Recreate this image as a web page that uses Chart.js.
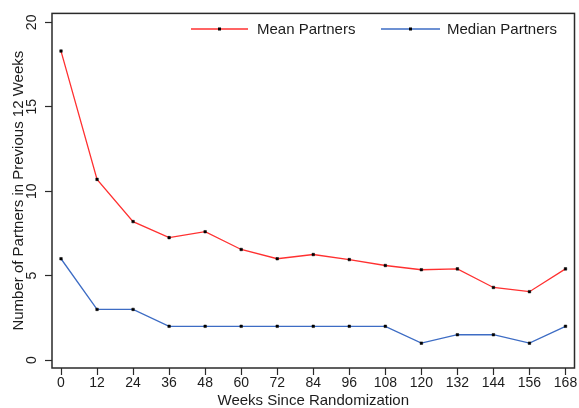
<!DOCTYPE html>
<html>
<head>
<meta charset="utf-8">
<script src="https://cdn.jsdelivr.net/npm/chart.js@4.4.0/dist/chart.umd.min.js"></script>
<style>
  html, body { margin: 0; padding: 0; background: #fff; }
</style>
</head>
<body>
<canvas id="chart" width="579" height="408"></canvas>
<script>
// Chart values
const weeks = [0, 12, 24, 36, 48, 60, 72, 84, 96, 108, 120, 132, 144, 156, 168];
const meanPartners = [18.3, 10.7, 8.2, 7.25, 7.6, 6.55, 6.0, 6.25, 5.95, 5.6, 5.35, 5.4, 4.3, 4.05, 5.4];
const medianPartners = [6, 3, 3, 2, 2, 2, 2, 2, 2, 2, 1, 1.5, 1.5, 1, 2];
const xTicks = [0, 12, 24, 36, 48, 60, 72, 84, 96, 108, 120, 132, 144, 156, 168];
const yTicks = [0, 5, 10, 15, 20];

const FONT = "'Liberation Sans', Arial, Helvetica, sans-serif";
const TEXT_COLOR = '#1c1c1c';
const FRAME_COLOR = '#2a2a2a';

Chart.defaults.font.family = FONT;
Chart.defaults.font.size = 14;
Chart.defaults.color = TEXT_COLOR;

function toPoints(values) {
    return weeks.map((w, i) => ({ x: w, y: values[i] }));
}

// Frame around the plot region (Stata style box)
const framePlugin = {
    id: 'frame',
    afterDatasetsDraw(chart) {
        const { ctx, chartArea: a } = chart;
        ctx.save();
        ctx.strokeStyle = FRAME_COLOR;
        ctx.lineWidth = 1.5;
        ctx.strokeRect(a.left, a.top, a.right - a.left, a.bottom - a.top);
        ctx.restore();
    }
};

// Legend drawn inside the plot, line with a centred marker
const insideLegend = {
    id: 'insideLegend',
    afterDraw(chart) {
        const ctx = chart.ctx;
        const y = 29;
        const items = [
            { x0: 191, x1: 248, tx: 257 },
            { x0: 381, x1: 440, tx: 447 }
        ];
        ctx.save();
        chart.data.datasets.forEach((ds, i) => {
            const it = items[i];
            ctx.strokeStyle = ds.borderColor;
            ctx.lineWidth = ds.borderWidth;
            ctx.beginPath();
            ctx.moveTo(it.x0, y);
            ctx.lineTo(it.x1, y);
            ctx.stroke();
            ctx.fillStyle = '#000';
            const mx = (it.x0 + it.x1) / 2;
            ctx.fillRect(mx - 1.5, y - 1.5, 3, 3);
            ctx.fillStyle = TEXT_COLOR;
            ctx.font = '15px ' + FONT;
            ctx.textBaseline = 'middle';
            ctx.textAlign = 'left';
            ctx.fillText(ds.label, it.tx, y + 1);
        });
        ctx.restore();
    }
};

const seriesStyle = {
    borderWidth: 1.3,
    pointStyle: 'rect',
    pointRadius: 1.8,
    pointBackgroundColor: '#000',
    pointBorderColor: '#000',
    pointBorderWidth: 0.5,
    tension: 0,
    fill: false
};

new Chart(document.getElementById('chart'), {
    type: 'line',
    data: {
        datasets: [
            Object.assign({
                label: 'Mean Partners',
                data: toPoints(meanPartners),
                borderColor: '#ff3030'
            }, seriesStyle),
            Object.assign({
                label: 'Median Partners',
                data: toPoints(medianPartners),
                borderColor: '#3d6cc4'
            }, seriesStyle)
        ]
    },
    options: {
        responsive: false,
        animation: false,
        layout: { padding: { top: 10, right: 4, left: 11, bottom: 0 } },
        plugins: {
            legend: { display: false },
            tooltip: { enabled: false }
        },
        scales: {
            x: {
                type: 'linear',
                min: -3,
                max: 171,
                afterBuildTicks: s => { s.ticks = xTicks.map(v => ({ value: v })); },
                afterFit: s => { s.height = 40; },
                border: { display: false },
                grid: {
                    drawOnChartArea: false,
                    drawTicks: true,
                    tickLength: 7,
                    tickColor: FRAME_COLOR,
                    tickWidth: 1.2
                },
                ticks: { padding: 0, maxRotation: 0, color: TEXT_COLOR, font: { size: 14 } },
                title: {
                    display: true,
                    text: 'Weeks Since Randomization',
                    color: TEXT_COLOR,
                    font: { size: 15, lineHeight: 1 },
                    padding: 0
                }
            },
            y: {
                min: -0.47,
                max: 20.53,
                afterBuildTicks: s => { s.ticks = yTicks.map(v => ({ value: v })); },
                afterFit: s => { s.width = 41; },
                border: { display: false },
                grid: {
                    drawOnChartArea: false,
                    drawTicks: true,
                    tickLength: 7,
                    tickColor: FRAME_COLOR,
                    tickWidth: 1.2
                },
                ticks: {
                    padding: 5,
                    minRotation: 90,
                    maxRotation: 90,
                    crossAlign: 'center',
                    color: TEXT_COLOR,
                    font: { size: 14 }
                },
                title: {
                    display: true,
                    text: 'Number of Partners in Previous 12 Weeks',
                    color: TEXT_COLOR,
                    font: { size: 15, lineHeight: 1 },
                    padding: 0
                }
            }
        }
    },
    plugins: [framePlugin, insideLegend]
});
</script>
</body>
</html>
